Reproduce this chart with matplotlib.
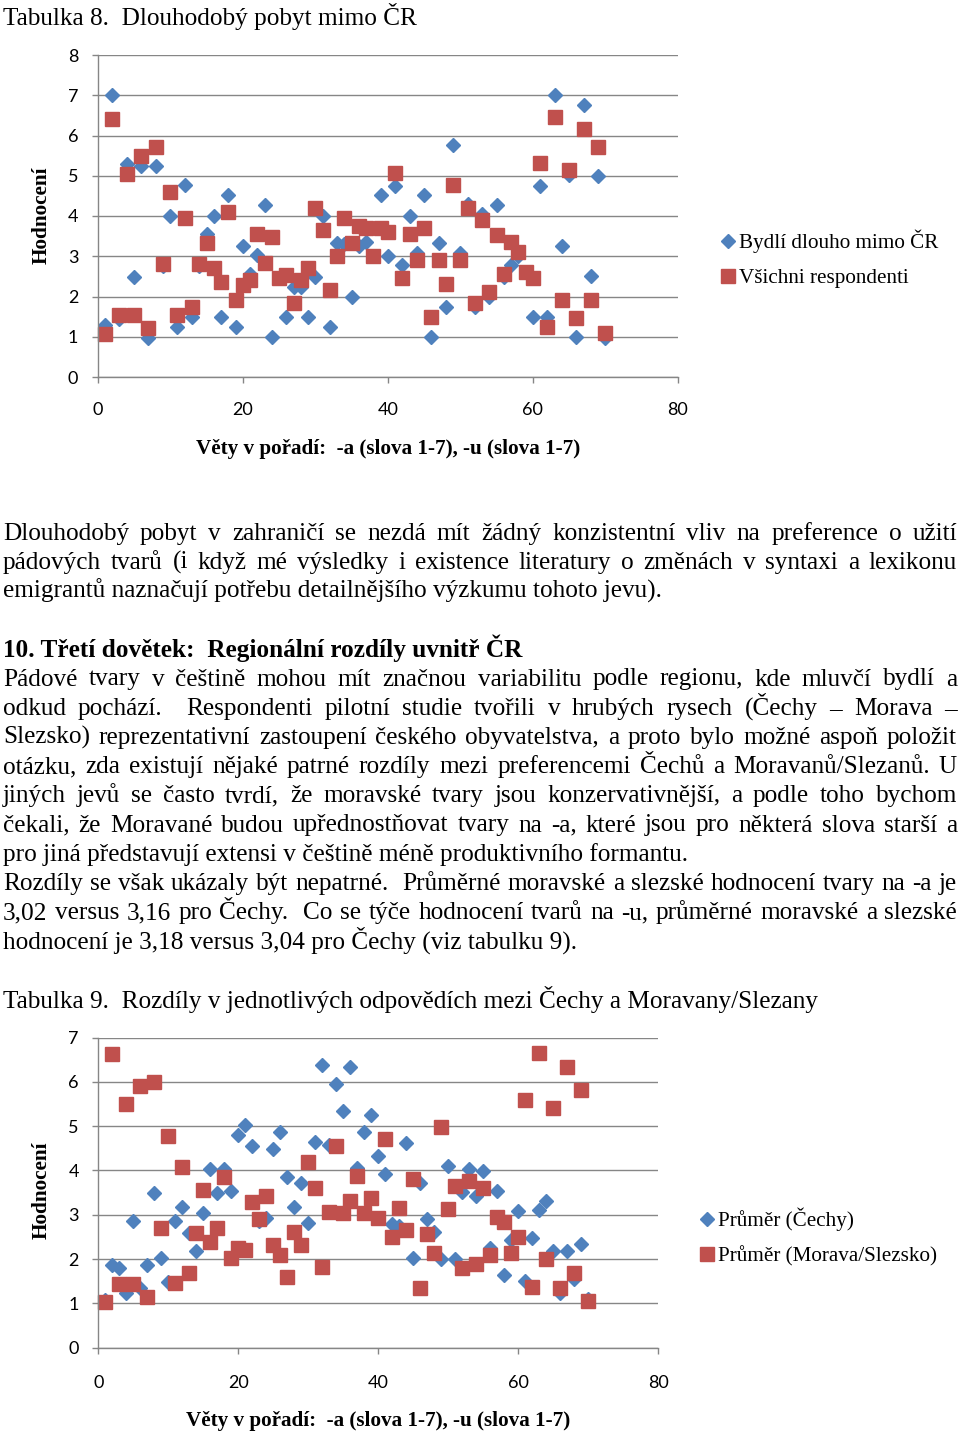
import matplotlib
matplotlib.use('Agg')
import matplotlib.pyplot as plt
from matplotlib.font_manager import FontProperties

# ---------------- data ----------------
sentences = list(range(1, 71))

bydli_mimo = [1.29, 7.0, 1.45, 5.3, 2.49, 5.24, 0.96, 5.24, 2.75, 4.0,
              1.25, 4.76, 1.5, 2.75, 3.55, 4.0, 1.5, 4.52, 1.25, 3.26,
              2.57, 3.03, 4.27, 1.0, 2.45, 1.5, 2.24, 2.24, 1.5, 2.49,
              4.0, 1.25, 3.32, 3.3, 2.0, 3.26, 3.36, 3.0, 4.52, 3.0,
              4.74, 2.78, 4.0, 3.07, 4.52, 1.0, 3.34, 1.75, 5.76, 3.07,
              4.31, 1.75, 4.06, 2.0, 4.27, 2.49, 2.78, 3.0, 2.6, 1.5,
              4.74, 1.5, 7.0, 3.26, 5.01, 1.0, 6.75, 2.51, 5.0, 0.96]

vsichni = [1.07, 6.4, 1.54, 5.05, 1.54, 5.5, 1.21, 5.71, 2.8, 4.6,
           1.54, 3.96, 1.75, 2.8, 3.34, 2.7, 2.37, 4.1, 1.91, 2.28,
           2.41, 3.55, 2.82, 3.47, 2.45, 2.53, 1.83, 2.41, 2.7, 4.21,
           3.65, 2.16, 3.0, 3.96, 3.34, 3.75, 3.69, 3.0, 3.69, 3.61,
           5.07, 2.45, 3.55, 2.9, 3.71, 1.5, 2.9, 2.31, 4.76, 2.9,
           4.21, 1.84, 3.91, 2.11, 3.52, 2.56, 3.36, 3.11, 2.61, 2.45,
           5.32, 1.25, 6.46, 1.91, 5.15, 1.46, 6.15, 1.91, 5.71, 1.1]

cechy = [1.08, 1.86, 1.79, 1.23, 2.86, 1.34, 1.86, 3.48, 2.02, 1.47,
         2.86, 3.18, 2.58, 2.17, 3.03, 4.03, 3.48, 4.03, 3.54, 4.8,
         5.02, 4.55, 2.85, 2.92, 4.48, 4.87, 3.86, 3.18, 3.71, 2.81,
         4.65, 6.39, 4.57, 5.94, 5.33, 6.33, 4.05, 4.87, 5.25, 4.33,
         3.93, 2.8, 2.75, 4.62, 2.02, 3.71, 2.9, 2.6, 1.99, 4.1,
         1.99, 3.52, 4.03, 3.43, 3.98, 2.24, 3.54, 1.64, 2.43, 3.08,
         1.51, 2.47, 3.1, 3.32, 2.19, 1.23, 2.17, 1.55, 2.33, 1.1]

morava = [1.04, 6.63, 1.43, 5.51, 1.43, 5.91, 1.14, 5.99, 2.71, 4.78,
          1.45, 4.07, 1.68, 2.58, 3.56, 2.39, 2.71, 3.84, 2.02, 2.24,
          2.2, 3.29, 2.9, 3.42, 2.32, 2.09, 1.6, 2.62, 2.32, 4.2,
          3.61, 1.83, 3.05, 4.55, 3.03, 3.32, 3.87, 3.03, 3.37, 2.92,
          4.72, 2.5, 3.15, 2.65, 3.81, 1.34, 2.56, 2.13, 4.97, 3.13,
          3.64, 1.79, 3.77, 1.89, 3.61, 2.1, 2.94, 2.84, 2.13, 2.49,
          5.59, 1.36, 6.66, 1.99, 5.4, 1.34, 6.34, 1.68, 5.81, 1.06]

x_ticks = [0, 20, 40, 60, 80]
chart1_yticks = list(range(0, 9))
chart2_yticks = list(range(0, 8))
y_label = "Hodnocení"
x_label = "Věty v pořadí:  -a (slova 1-7), -u (slova 1-7)"
legend1 = ["Bydlí dlouho mimo ČR", "Všichni respondenti"]
legend2 = ["Průměr (Čechy)", "Průměr (Morava/Slezsko)"]

title1 = "Tabulka 8.  Dlouhodobý pobyt mimo ČR"
title2 = "Tabulka 9.  Rozdíly v jednotlivých odpovědích mezi Čechy a Moravany/Slezany"
para1 = [
    ("Dlouhodobý pobyt v zahraničí se nezdá mít žádný konzistentní vliv na preference o užití", True),
    ("pádových tvarů (i když mé výsledky i existence literatury o změnách v syntaxi a lexikonu", True),
    ("emigrantů naznačují potřebu detailnějšího výzkumu tohoto jevu).", False),
]
heading = "10. Třetí dovětek:  Regionální rozdíly uvnitř ČR"
para2 = [
    ("Pádové tvary v češtině mohou mít značnou variabilitu podle regionu, kde mluvčí bydlí a", True),
    ("odkud pochází.  Respondenti pilotní studie tvořili v hrubých rysech (Čechy – Morava –", True),
    ("Slezsko) reprezentativní zastoupení českého obyvatelstva, a proto bylo možné aspoň položit", True),
    ("otázku, zda existují nějaké patrné rozdíly mezi preferencemi Čechů a Moravanů/Slezanů. U", True),
    ("jiných jevů se často tvrdí, že moravské tvary jsou konzervativnější, a podle toho bychom", True),
    ("čekali, že Moravané budou upřednostňovat tvary na -a, které jsou pro některá slova starší a", True),
    ("pro jiná představují extensi v češtině méně produktivního formantu.", False),
    ("Rozdíly se však ukázaly být nepatrné.  Průměrné moravské a slezské hodnocení tvary na -a je", True),
    ("3,02 versus 3,16 pro Čechy.  Co se týče hodnocení tvarů na -u, průměrné moravské a slezské", True),
    ("hodnocení je 3,18 versus 3,04 pro Čechy (viz tabulku 9).", False),
]

# ---------------- setup ----------------
W, H = 960, 1436
plt.rcParams['font.family'] = ['Lato', 'DejaVu Sans']
fig = plt.figure(figsize=(W / 100, H / 100), dpi=100)
fig.patch.set_facecolor('white')
renderer = fig.canvas.get_renderer()

SERIF = ['Liberation Serif', 'DejaVu Serif']
BLUE = '#4F81BD'
RED = '#C0504D'
GRID = '#868686'


def fx(px):
    return px / W


def fy(py):
    return 1 - py / H


def text_width(s, size, weight='normal'):
    fp = FontProperties(family=SERIF, size=size, weight=weight)
    w, h, d = renderer.get_text_width_height_descent(s, fp, ismath=False)
    return w


def fit_size(s, target, weight='normal'):
    return 10 * target / text_width(s, 10, weight)


BODY = fit_size("pro jiná představují extensi v češtině méně produktivního formantu.", 687)
LEFT, RIGHT = 3, 957


def draw_line(s, base, size, weight='normal', justify=False):
    if not justify:
        fig.text(fx(LEFT), fy(base), s, fontsize=size, fontweight=weight,
                 family=SERIF, ha='left', va='baseline', color='black')
        return
    tokens = s.split(' ')
    widths = [text_width(t, size, weight) if t else 0.0 for t in tokens]
    gap = (RIGHT - LEFT - sum(widths)) / (len(tokens) - 1)
    x = LEFT
    for t, w in zip(tokens, widths):
        if t:
            fig.text(fx(x), fy(base), t, fontsize=size, fontweight=weight,
                     family=SERIF, ha='left', va='baseline', color='black')
        x += w + gap


# ---------------- text ----------------
draw_line(title1, 25, BODY)
for (s, j), b in zip(para1, [540, 568.8, 597.6]):
    draw_line(s, b, BODY, justify=j)
draw_line(heading, 656.7, BODY, weight='bold')
for i, (s, j) in enumerate(para2):
    draw_line(s, 685.5 + i * 29.2, BODY, justify=j)
draw_line(title2, 1008, BODY)

YLAB = fit_size(y_label, 98, 'bold')
XLAB = fit_size(x_label, 385, 'bold')
LEG = fit_size(legend1[0], 199)


def make_chart(rect, ylim, yticks, xlab_pos, ylab_pos, blue, red, labels, leg_anchor, xpad):
    ax = fig.add_axes(rect)
    ax.set_xlim(0, 80)
    ax.set_ylim(0, ylim)
    ax.set_xticks(x_ticks)
    ax.set_yticks(yticks)
    ax.yaxis.grid(True, color=GRID, lw=1.0)
    ax.set_axisbelow(True)
    for sp in ['top', 'right']:
        ax.spines[sp].set_visible(False)
    for sp in ['left', 'bottom']:
        ax.spines[sp].set_color(GRID)
        ax.spines[sp].set_linewidth(1.0)
    ax.tick_params(axis='y', direction='out', length=4, width=1, color=GRID,
                   pad=10, labelsize=13, labelcolor='black')
    ax.tick_params(axis='x', direction='out', length=4, width=1, color=GRID,
                   pad=xpad, labelsize=13, labelcolor='black')
    hb, = ax.plot(sentences, blue, 'D', ms=7.6, color=BLUE, mec=BLUE, ls='none', clip_on=False)
    hr, = ax.plot(sentences, red, 's', ms=10.2, color=RED, mec=RED, ls='none', clip_on=False)
    fig.text(fx(ylab_pos[0]), fy(ylab_pos[1]), y_label, rotation=90, family=SERIF,
             fontweight='bold', fontsize=YLAB, ha='center', va='center')
    fig.text(fx(xlab_pos[0]), fy(xlab_pos[1]), x_label, family=SERIF,
             fontweight='bold', fontsize=XLAB, ha='center', va='center')
    ax.legend([hb, hr], labels, loc='center left',
              bbox_to_anchor=(fx(leg_anchor[0]), fy(leg_anchor[1])),
              bbox_transform=fig.transFigure, frameon=False,
              prop=FontProperties(family=SERIF, size=LEG),
              handlelength=0.8, handletextpad=0.08, borderpad=0, borderaxespad=0,
              labelspacing=0.7, numpoints=1)
    return ax


make_chart([fx(97.7), fy(377), (678 - 97.7) / W, (377 - 55) / H], 8, chart1_yticks,
           (388.5, 449), (42, 215), bydli_mimo, vsichni, legend1, (720, 259), 14)
make_chart([fx(98.3), fy(1347.6), (658.3 - 98.3) / W, (1347.6 - 1037.5) / H], 7, chart2_yticks,
           (378, 1421), (42, 1190), cechy, morava, legend2, (699, 1237), 16)

fig.savefig('out.png', dpi=100, facecolor='white')
